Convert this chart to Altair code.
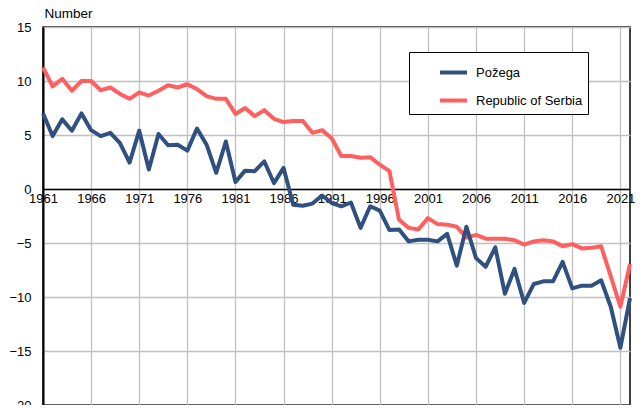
import altair as alt
import pandas as pd

years = list(range(1961, 2023))
pozega = [7.0, 4.9, 6.45, 5.4, 7.0, 5.45, 4.9, 5.2, 4.25, 2.45,
          5.4, 1.8, 5.1, 4.05, 4.1, 3.55, 5.6, 4.1, 1.5, 4.4,
          0.65, 1.7, 1.65, 2.55, 0.55, 1.95, -1.45, -1.55, -1.35, -0.6,
          -1.3, -1.6, -1.25, -3.6, -1.6, -2.0, -3.8, -3.75, -4.85, -4.7,
          -4.7, -4.85, -4.15, -7.1, -3.5, -6.4, -7.2, -5.4, -9.7, -7.4,
          -10.55, -8.8, -8.55, -8.55, -6.75, -9.2, -8.95, -8.95, -8.45, -10.9,
          -14.7, -10.1]
serbia = [11.25, 9.5, 10.2, 9.1, 10.0, 10.0, 9.15, 9.4, 8.8, 8.35,
          8.95, 8.65, 9.1, 9.6, 9.4, 9.7, 9.25, 8.6, 8.35, 8.35,
          6.95, 7.5, 6.75, 7.3, 6.5, 6.2, 6.3, 6.3, 5.2, 5.45,
          4.7, 3.05, 3.05, 2.9, 2.95, 2.25, 1.65, -2.85, -3.6, -3.75,
          -2.7, -3.25, -3.3, -3.5, -4.5, -4.25, -4.6, -4.6, -4.6, -4.75,
          -5.15, -4.85, -4.75, -4.85, -5.3, -5.1, -5.5, -5.45, -5.3, -8.1,
          -10.9, -6.95]
series_names = ["Požega", "Republic of Serbia"]
series_colors = ["#30517f", "#ff5f5f"]
x_ticks = list(range(1961, 2022, 5))
y_ticks = list(range(-20, 16, 5))

df = pd.DataFrame({
    "year": years * 2,
    "value": pozega + serbia,
    "series": [series_names[0]] * len(years) + [series_names[1]] * len(years),
})

color = alt.Color(
    "series:N",
    scale=alt.Scale(domain=series_names, range=series_colors),
    legend=alt.Legend(
        title=None, orient="none", legendX=366, legendY=25,
        strokeColor="#000", fillColor="#fff", padding=5,
        symbolType="stroke", symbolStrokeWidth=4, symbolSize=729,
        symbolOffset=24, labelOffset=7, rowPadding=4,
        labelFont="Liberation Sans", labelFontSize=13, labelColor="#000",
        labelExpr="datum.label == 'Republic of Serbia' ? datum.label + '\u00a0\u00a0\u00a0\u00a0\u00a0\u00a0\u00a0\u00a0\u00a0' : datum.label",
    ),
)

x = alt.X("year:Q",
          scale=alt.Scale(domain=[1961, 2022], nice=False, zero=False),
          axis=alt.Axis(values=x_ticks, format="d", title=None, offset=-216,
                        grid=True, gridColor="#c0c0c0", gridWidth=1.3,
                        domainColor="#000", domainWidth=1.5, ticks=False,
                        labelPadding=3, labelFlush=False, labelOverlap=False))
y = alt.Y("value:Q",
          scale=alt.Scale(domain=[-20, 15], nice=False),
          axis=alt.Axis(values=y_ticks, title="Number", titleAngle=0,
                        titleAlign="left", titleBaseline="middle",
                        titleX=1, titleY=-13.5, titleFont="Liberation Sans",
                        titleFontSize=13.5, titleFontWeight="normal", titleColor="#000",
                        grid=True, gridColor="#c0c0c0", gridWidth=1.3,
                        domainColor="#000", domainWidth=2, ticks=False,
                        labelPadding=12, labelFlush=False))

base = alt.Chart(df).mark_line(strokeWidth=4, strokeJoin="round").encode(
    x=x, y=y, color=color)

red = base.transform_filter(alt.datum.series == series_names[1])
blue = base.transform_filter(alt.datum.series == series_names[0])

chart = alt.layer(red, blue).properties(
    width=587, height=378,
    autosize=alt.AutoSizeParams(type="none"),
    padding={"left": 35, "top": 19, "right": 6, "bottom": 0},
).configure_axis(
    labelFont="Liberation Sans", labelFontSize=13, labelColor="#000",
).configure_view(
    stroke="#000", strokeWidth=1.5,
)

chart.save("out.html", embed_options={"renderer": "svg", "actions": False})
